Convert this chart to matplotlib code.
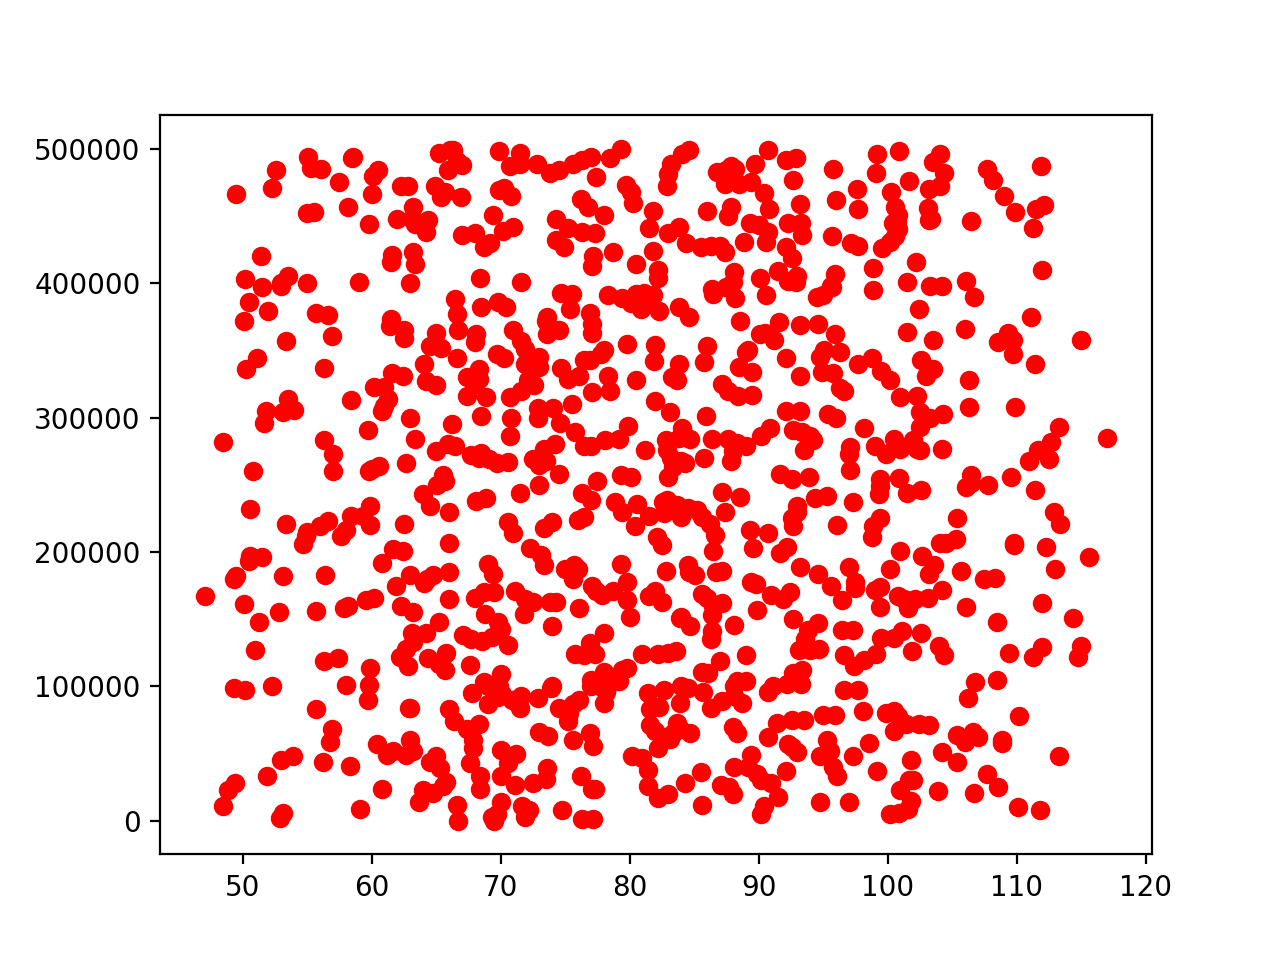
import numpy as np
import matplotlib.pyplot as plt

# points, grouped by height (y is in thousands)
x_450 = [49.5,52.3,52.6,55.1,55.3,56.1,57.5,58.5,58.6,60.1,60.5,60.0,58.2,62.3,62.8,64.9,65.7,65.2,66.1,66.3,66.6,65.9,67.0,65.4,66.9,69.9,69.9,70.3,70.7,70.8,71.5,71.5,72.8,73.8,74.5,75.6,76.3,77.0,77.4,76.2,76.8,78.5,79.3,79.7,80.1,80.3,82.9,83.0,83.2,84.1,84.6,86.8,87.5,87.9,88.2,87.4,88.5,89.4,89.7,90.7,90.4,92.1,92.9,92.7,95.8,96.0,97.6,99.2,99.1,100.9,101.7,100.3,103.2,103.5,104.1,104.4,104.1,107.7,108.2,109.0,111.9,55.0,55.5,63.2,69.4,74.3,78.0,81.8,86.0,87.9,87.6,90.8,93.2,97.7,100.6,103.1,111.5,112.1,109.9,100.8]
y_450 = [466,471,484,494,486,485,475,493,494,480,484,466,457,472,472,472,468,497,499,499,491,484,488,464,464,498,469,471,487,465,489,497,489,482,484,489,492,494,479,463,457,493,500,473,468,460,472,481,489,496,499,483,484,487,485,474,474,475,489,499,467,492,493,477,485,462,470,496,482,498,476,468,470,490,496,482,472,485,477,465,487,452,453,457,451,448,451,454,454,457,450,455,459,455,457,456,455,458,453,451]

x_400 = [50.2,51.4,53.5,53.0,55.0,59.0,59.8,61.5,61.6,62.0,63.1,63.4,64.2,64.4,63.2,63.4,63.0,67.0,68.0,68.7,69.2,68.4,70.2,71.0,71.6,74.3,74.9,75.2,76.3,77.2,77.1,77.3,78.7,80.5,81.5,81.8,82.2,82.2,83.0,83.8,84.4,85.5,86.3,87.0,87.4,88.1,88.0,88.9,89.3,90.0,90.1,90.6,90.7,91.5,92.1,92.3,92.6,92.3,92.9,93.0,93.3,93.4,95.7,95.9,97.2,97.7,98.9,99.6,100.4,100.2,100.7,100.8,100.6,101.5,102.2,103.2,103.4,106.1,106.5,111.3,112.0]
y_400 = [403,420,405,400,400,401,444,416,421,448,448,444,438,447,423,414,400,436,437,427,430,404,439,442,401,432,427,441,438,420,413,437,423,414,441,424,410,404,437,442,430,427,428,428,423,408,401,431,445,443,404,431,438,409,427,445,419,402,401,405,445,436,435,407,430,428,411,426,445,431,446,440,435,401,416,447,448,402,446,441,410]

x_350 = [50.1,50.5,51.1,51.5,52.0,53.0,53.4,55.7,56.6,56.9,61.5,61.4,62.5,62.5,64.5,65.0,65.4,66.5,66.6,66.7,68.1,68.0,68.5,69.8,70.4,71.0,71.6,71.9,73.5,73.6,74.0,73.6,74.5,74.7,75.5,75.4,76.9,77.1,77.1,78.0,78.3,79.8,79.4,80.1,80.5,80.7,80.9,81.1,81.5,81.8,82.0,82.3,83.8,84.6,86.0,86.4,86.5,87.5,88.2,88.6,89.2,90.1,90.5,90.6,91.2,91.6,93.2,94.5,95.0,95.7,95.6,94.6,95.9,96.3,98.9,101.5,102.4,103.3,104.2,103.5,106.0,106.7,108.6,109.3,109.7,109.7,111.1,115.0]
y_350 = [372,386,344,397,379,398,357,378,376,361,373,368,365,359,353,363,352,388,377,365,362,356,382,386,382,365,357,351,372,375,366,362,365,393,392,381,378,370,363,350,391,355,389,385,392,388,381,393,386,391,354,379,382,375,353,396,392,397,389,372,350,362,363,391,358,371,369,390,391,397,398,370,362,349,395,364,381,398,398,358,366,390,356,363,358,347,375,358]

x_300 = [50.3,53.5,53.1,54.0,51.8,56.3,58.4,60.2,61.0,60.8,61.0,61.3,62.4,61.6,63.0,64.1,64.2,65.0,66.6,67.4,67.4,68.0,68.3,68.3,68.5,68.9,69.7,70.3,70.7,70.8,71.6,71.9,72.1,72.6,73.0,73.0,72.9,72.9,74.1,74.7,75.2,75.5,76.1,76.5,76.9,77.1,77.8,78.3,78.5,80.5,82.0,81.9,83.3,83.1,83.7,83.8,85.8,85.9,87.2,87.6,88.5,88.4,89.5,89.5,89.0,92.1,92.1,93.2,93.2,94.8,95.1,94.9,95.8,95.4,96.0,96.3,96.6,97.7,98.8,99.5,100.2,101.0,102.3,103.0,103.5,102.5,103.3,104.3,102.6,106.3,106.3,109.9,111.4]
y_300 = [336,314,304,306,305,337,313,323,323,305,309,314,331,333,300,340,327,324,344,330,316,325,336,329,301,315,347,344,315,300,320,340,328,324,345,338,307,300,307,337,329,310,331,343,343,319,347,331,320,328,312,342,330,304,328,340,341,301,325,320,338,316,334,317,349,344,305,305,331,345,350,334,333,303,300,322,320,340,344,335,328,315,316,331,336,304,300,303,343,328,308,308,340]

x_250 = [48.5,50.8,51.7,56.3,57.0,57.0,59.7,59.8,60.0,60.6,62.7,63.4,65.0,65.1,65.5,65.7,65.9,66.2,66.5,67.7,68.3,68.5,69.1,69.7,70.6,70.7,72.5,73.0,73.4,73.5,74.2,74.6,74.5,73.0,75.8,76.5,77.0,77.5,78.1,79.2,79.3,79.9,80.1,81.2,82.8,82.9,83.0,83.2,83.4,83.8,84.0,84.1,84.3,84.7,85.8,86.4,87.6,87.9,88.0,88.3,89.0,90.2,90.9,91.7,92.6,92.7,93.4,93.5,94.0,94.2,93.9,97.1,97.1,97.0,98.2,99.0,99.4,99.9,100.5,100.9,101.0,102.0,102.3,102.5,102.5,104.2,106.5,106.5,107.8,109.6,111.0,111.7,112.5,112.7,113.3,117.0]
y_250 = [282,260,296,283,273,260,291,260,262,264,266,284,275,250,257,253,280,295,279,272,270,274,269,266,267,286,269,265,277,268,280,296,258,250,289,279,279,253,283,284,257,294,256,276,283,276,256,270,263,285,268,292,266,284,270,284,284,268,275,281,279,286,292,258,254,291,289,276,286,283,256,278,261,273,292,279,254,273,284,255,277,283,277,293,276,277,257,251,250,256,268,276,269,282,293,285]

x_200 = [50.6,50.6,50.5,51.5,53.4,54.7,54.9,55.0,56.0,56.6,57.6,58.0,58.4,59.3,59.9,59.9,61.7,62.4,62.5,64.0,64.5,66.0,66.0,68.1,68.9,70.6,71.0,71.5,72.3,73.1,73.4,74.0,76.0,76.3,76.5,77.0,78.9,79.4,80.4,80.6,81.5,82.1,82.5,82.6,82.7,82.9,83.7,84.0,84.5,85.2,85.6,86.2,86.6,86.5,87.2,87.4,88.6,89.3,89.6,90.7,91.7,92.2,92.6,92.7,93.0,93.0,94.4,95.3,96.1,97.3,98.9,98.8,99.4,99.3,99.4,101.5,102.6,101.0,102.7,104.1,104.5,105.3,105.4,106.1,109.8,109.8,111.4,112.3,112.9,113.4,115.6]
y_200 = [232,197,193,196,221,206,212,215,219,223,212,216,227,227,220,234,202,201,221,243,234,230,207,238,240,222,214,244,203,198,218,222,224,244,226,239,237,230,219,236,227,211,205,237,229,239,235,226,233,231,226,221,213,201,245,230,241,216,203,214,199,204,225,219,230,234,240,242,220,237,219,211,225,243,249,244,246,201,197,207,207,210,225,248,205,207,246,204,230,221,196]

x_150 = [47.1,49.3,49.5,50.1,51.3,52.8,53.1,55.7,56.4,57.9,58.2,59.6,60.2,60.8,61.9,62.3,63.0,63.2,64.1,64.3,64.8,65.2,66.0,66.0,68.0,68.7,68.8,69.0,69.4,69.5,71.1,71.9,71.8,72.5,73.4,73.8,74.3,75.0,75.6,75.7,76.0,76.1,77.1,77.4,77.9,78.7,79.3,79.8,79.8,80.0,81.5,82.0,82.5,82.8,84.0,84.5,84.6,85.1,85.6,86.0,86.4,86.5,86.7,87.2,87.2,89.4,89.8,89.9,91.0,91.9,92.4,92.7,93.2,94.6,95.6,96.5,97.0,97.5,97.5,99.0,99.4,99.4,100.2,100.8,101.3,101.6,102.1,103.1,103.2,103.6,104.2,105.7,106.1,107.5,108.3,108.5,112.0,113.0,114.4]
y_150 = [167,180,182,161,148,155,182,156,183,158,160,164,166,192,175,160,183,155,177,180,183,148,165,185,166,170,154,191,184,170,171,165,154,163,190,163,163,187,180,190,187,158,175,171,168,171,191,178,164,152,167,171,163,186,152,190,185,183,169,166,153,160,185,186,162,178,176,157,168,165,170,150,189,184,175,164,189,178,173,172,174,159,187,167,165,158,165,166,184,190,172,186,159,180,181,148,162,187,151]

x_100 = [49.3,50.2,51.0,52.3,56.3,57.4,58.0,59.8,59.9,62.2,62.7,62.8,63.1,63.2,64.2,64.4,65.2,65.7,65.8,67.1,67.7,67.6,67.8,68.6,68.7,69.0,69.3,69.8,70.0,70.0,69.9,70.6,74.0,74.0,75.8,76.5,76.9,77.3,77.0,77.7,78.0,78.0,78.3,78.5,79.2,79.4,79.8,81.0,82.2,83.0,83.6,83.9,84.7,84.0,84.5,85.6,86.1,86.4,86.3,87.0,88.1,88.3,89.0,89.0,90.7,91.1,92.2,92.7,93.1,93.3,93.4,93.6,93.8,94.0,94.6,94.7,96.5,96.6,97.3,97.4,98.2,99.1,99.5,100.5,101.1,101.9,102.6,104.0,104.4,106.8,108.5,109.4,111.3,112.0,114.8,115.0]
y_100 = [99,97,127,100,119,121,101,101,114,122,128,115,140,133,140,121,117,112,125,138,135,116,95,134,103,100,137,148,143,109,100,131,145,100,124,123,132,124,105,100,140,111,101,105,104,112,114,124,124,125,126,151,145,100,99,111,110,141,135,119,146,104,123,104,96,100,102,110,127,102,112,135,142,127,147,128,142,123,142,115,120,124,136,136,141,126,140,130,123,103,105,125,122,129,122,130]

x_50 = [55.7,56.9,56.8,59.7,63.0,62.9,63.0,63.2,61.7,61.2,60.4,66.0,66.4,67.4,67.9,67.9,68.3,69.0,69.8,70.0,70.1,70.9,71.2,71.5,71.6,73.0,72.9,73.7,73.9,74.5,75.2,75.3,75.6,75.6,76.1,76.9,77.2,77.0,78.0,78.2,81.4,81.6,81.6,82.0,82.2,82.3,82.6,82.7,83.1,83.4,83.7,83.9,83.9,84.7,85.7,86.3,87.2,88.1,88.0,88.3,88.7,88.1,89.4,90.7,91.4,92.3,92.6,93.5,93.0,92.6,94.8,95.0,95.3,95.5,95.9,96.6,97.7,98.1,97.3,98.6,99.9,100.5,100.8,100.5,101.4,102.4,103.2,106.2,105.4,106.0,106.6,107.0,108.9,108.9,110.2]
y_50 = [83,68,59,90,84,84,60,52,52,49,57,83,74,68,60,54,72,87,92,53,94,90,50,84,93,66,91,63,99,84,74,80,87,60,90,65,56,100,88,96,95,83,71,67,54,85,62,97,61,65,73,68,88,65,96,84,89,93,70,65,88,100,49,62,73,57,75,75,51,55,48,79,60,52,79,97,97,82,48,58,80,82,78,67,72,72,71,91,64,59,66,62,60,58,78]

x_0 = [48.5,48.9,49.4,51.9,52.9,53.1,53.0,53.9,56.2,58.3,59.1,60.8,62.7,63.7,64.0,64.5,64.8,65.0,65.3,65.5,65.8,66.6,66.7,67.6,68.4,68.4,69.3,69.5,69.7,70.0,70.0,70.6,71.1,71.7,71.9,72.2,72.5,73.5,73.6,74.8,76.2,76.3,77.2,77.1,77.3,80.2,81.0,81.4,81.4,82.2,83.0,84.3,85.5,85.6,87.1,87.7,88.0,88.1,89.2,89.9,90.2,90.2,90.4,91.0,91.5,92.1,94.8,95.8,96.1,97.0,99.2,100.2,100.9,101.0,101.6,101.8,101.7,101.8,102.0,103.9,104.2,105.4,106.7,107.7,108.6,110.1,111.8,113.3]
y_0 = [11,23,28,33,2,6,45,48,44,41,9,24,49,14,23,44,21,48,39,26,29,12,0,43,24,33,3,0,5,14,33,43,27,11,3,8,28,31,39,8,33,1,1,24,24,48,47,38,26,17,20,28,36,12,27,25,20,40,40,35,30,5,11,28,18,37,14,40,33,14,37,5,6,23,9,15,30,45,30,22,51,44,21,35,25,10,8,48]

x_bands = [x_450, x_400, x_350, x_300, x_250, x_200, x_150, x_100, x_50, x_0]
y_bands = [y_450, y_400, y_350, y_300, y_250, y_200, y_150, y_100, y_50, y_0]

x = np.concatenate(x_bands)
y = np.concatenate(y_bands) * 1000

fig, ax = plt.subplots(figsize=(6.4, 4.8), dpi=200)
ax.scatter(x, y, color='red')
ax.set_xlim(43.6, 120.5)
ax.set_ylim(-25000, 525000)
ax.set_xticks([50, 60, 70, 80, 90, 100, 110, 120])
ax.set_yticks([0, 100000, 200000, 300000, 400000, 500000])

plt.savefig('out.png')
